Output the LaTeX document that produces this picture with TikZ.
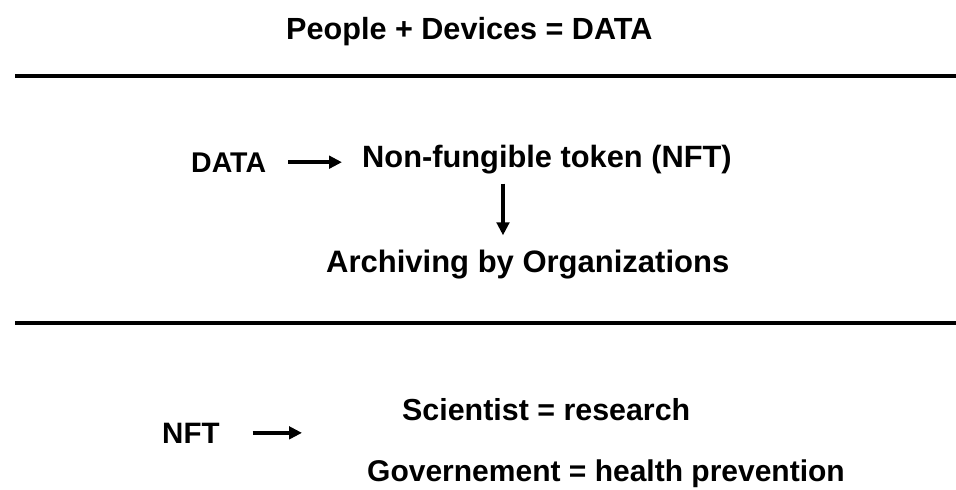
\documentclass[tikz,border=0pt]{standalone}
\usepackage{fontspec}
\setmainfont{Liberation Sans}
\usetikzlibrary{arrows.meta}
\tikzset{
  lbl/.style={inner sep=0pt, anchor=base west, font=\bfseries\fontsize{#1}{#1}\selectfont},
  lbl/.default=30,
  rule/.style={line width=3.8pt, black},
  arr/.style={line width=3.4pt, -{Triangle[length=13pt,width=12.5pt]}}
}
\begin{document}
\begin{tikzpicture}[x=1pt,y=-1pt]
\useasboundingbox (0,0) rectangle (956,490);
% titles and labels
\node[lbl=30.6] (title) at (286,39) {People + Devices = DATA};
\coordinate (r1a) at (15,76);
\coordinate (r1b) at (956,76);
\draw[rule] (r1a) -- (r1b);
\node[lbl=28.5] (data) at (191,172) {DATA};
\node[lbl=30.8] (nft) at (362,167) {Non-fungible token (NFT)};
\node[lbl=31] (arch) at (326,272) {Archiving by Organizations};
\coordinate (vx) at (503,0);
\draw[arr, shorten <=22pt, shorten >=20pt] (data.east) -- (data.east -| nft.west);
\draw[arr, shorten <=10pt, shorten >=14pt] (nft.south -| vx) -- (arch.north -| vx);
\coordinate (r2a) at (15,323);
\coordinate (r2b) at (956,323);
\draw[rule, line width=3.4pt] (r2a) -- (r2b);
\node[lbl=29.5] (nft2) at (162,443) {NFT};
\coordinate (ne) at (302,0);
\draw[arr, shorten <=33pt] (nft2.east) -- (nft2.east -| ne);
\node[lbl=30.4] (sci) at (402,420) {Scientist = research};
\node[lbl=30] (gov) at (367,481) {Governement = health prevention};
\end{tikzpicture}
\end{document}
